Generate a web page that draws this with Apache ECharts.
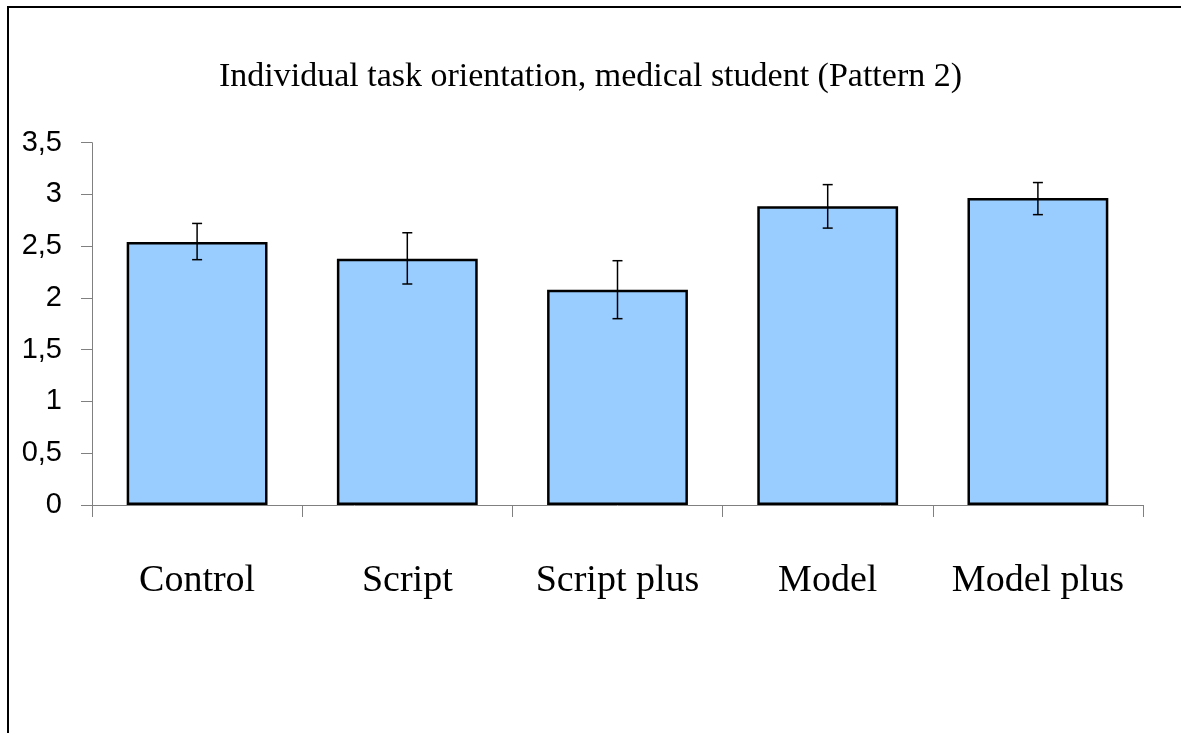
<!DOCTYPE html>
<html>
<head>
<meta charset="utf-8">
<script src="https://cdn.jsdelivr.net/npm/echarts@6/dist/echarts.min.js"></script>
<style>
  html, body { margin: 0; padding: 0; background: #fff; }
  #chart { width: 1181px; height: 733px; }
</style>
</head>
<body>
<div id="chart"></div>
<script>
// values
const categories = ['Control', 'Script', 'Script plus', 'Model', 'Model plus'];
const means = [2.54, 2.38, 2.08, 2.885, 2.965];
const errLow = [2.37, 2.135, 1.80, 2.675, 2.805];
const errHigh = [2.72, 2.63, 2.36, 3.095, 3.115];
const yTickLabels = ['0', '0,5', '1', '1,5', '2', '2,5', '3', '3,5'];

const chart = echarts.init(document.getElementById('chart'));

const option = {
  animation: false,
  backgroundColor: '#fff',
  title: {
    text: 'Individual task orientation, medical student (Pattern 2)',
    left: 'center',
    top: 55,
    textStyle: {
      fontFamily: 'Liberation Serif',
      fontSize: 34,
      fontWeight: 'normal',
      color: '#000'
    }
  },
  graphic: [
    {
      type: 'rect',
      shape: { x: 8, y: 7, width: 1300, height: 900 },
      style: { fill: 'none', stroke: '#000', lineWidth: 2 },
      silent: true
    }
  ],
  grid: {
    left: 92,
    right: 38,
    top: 142.7,
    bottom: 228
  },
  xAxis: {
    type: 'category',
    data: categories,
    axisLine: { show: true, lineStyle: { color: '#808080', width: 1 } },
    axisTick: { show: true, interval: 0, length: 12, lineStyle: { color: '#808080' } },
    axisLabel: {
      interval: 0,
      fontFamily: 'Liberation Serif',
      fontSize: 38,
      color: '#000',
      margin: 57
    }
  },
  yAxis: {
    type: 'value',
    min: 0,
    max: 3.5,
    interval: 0.5,
    axisLine: { show: true, lineStyle: { color: '#808080', width: 1 } },
    axisTick: { show: true, length: 11, lineStyle: { color: '#808080' } },
    splitLine: { show: false },
    axisLabel: {
      fontFamily: 'Liberation Sans',
      fontSize: 29,
      color: '#000',
      margin: 30,
      formatter: function (v) {
        return yTickLabels[Math.round(v / 0.5)];
      }
    }
  },
  series: [
    {
      type: 'bar',
      data: means,
      barWidth: '67%',
      itemStyle: {
        color: '#99CCFF',
        borderColor: '#000',
        borderWidth: 2.5
      }
    },
    {
      type: 'custom',
      data: categories.map((c, i) => [i, errLow[i], errHigh[i]]),
      encode: { x: 0, y: [1, 2] },
      z: 10,
      renderItem: function (params, api) {
        const lo = api.coord([api.value(0), api.value(1)]);
        const hi = api.coord([api.value(0), api.value(2)]);
        const cap = 5;
        const style = { stroke: '#000', lineWidth: 1.5 };
        return {
          type: 'group',
          children: [
            { type: 'line', shape: { x1: hi[0], y1: hi[1], x2: lo[0], y2: lo[1] }, style: style },
            { type: 'line', shape: { x1: hi[0] - cap, y1: hi[1], x2: hi[0] + cap, y2: hi[1] }, style: style },
            { type: 'line', shape: { x1: lo[0] - cap, y1: lo[1], x2: lo[0] + cap, y2: lo[1] }, style: style }
          ]
        };
      }
    }
  ]
};

chart.setOption(option);
</script>
</body>
</html>
